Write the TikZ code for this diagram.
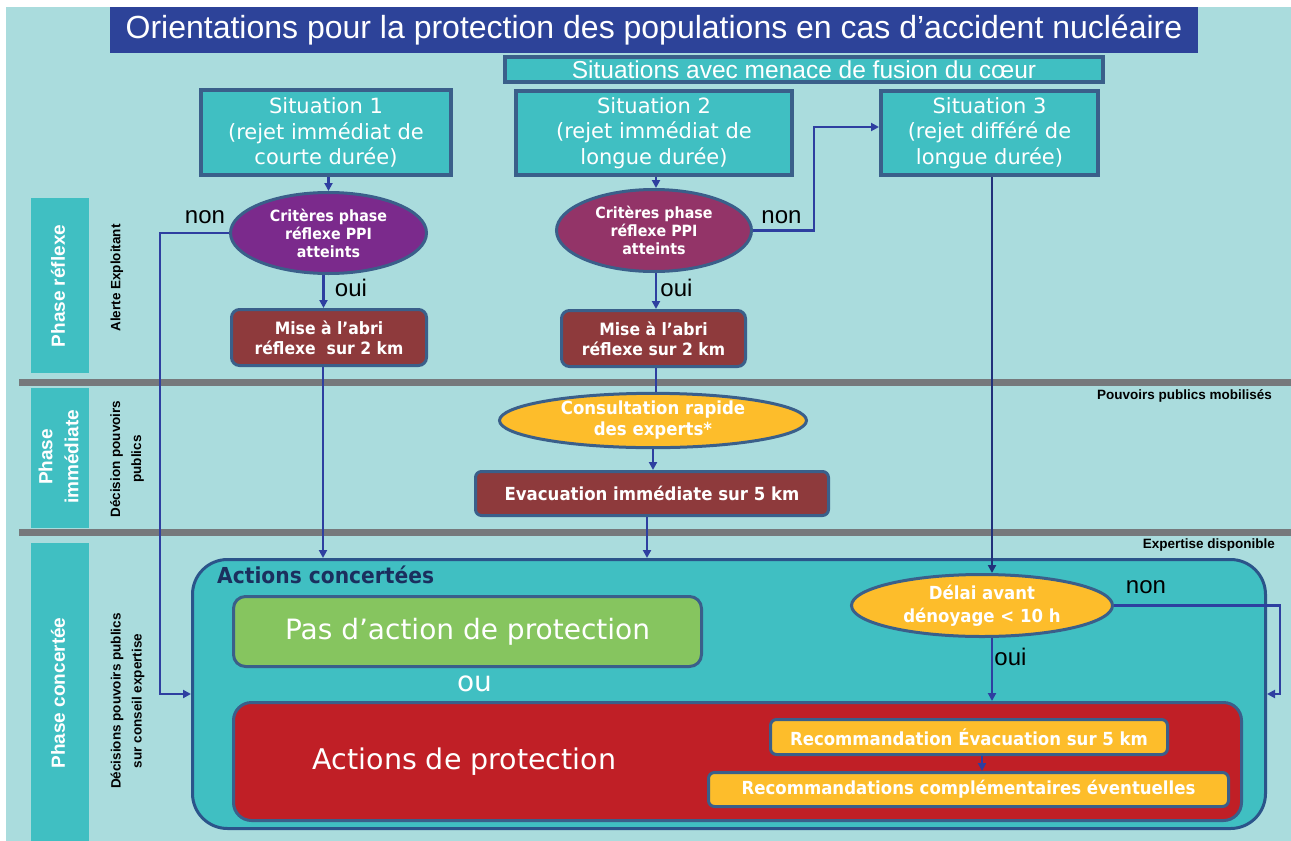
\documentclass[tikz,border=0pt]{standalone}
\usepackage{fontspec}
\setmainfont{Liberation Sans}
\newfontfamily\dvs{DejaVu Sans}
\newfontfamily\dvc{DejaVu Sans}[FakeStretch=0.92]
\usetikzlibrary{shapes.geometric,arrows.meta}
\definecolor{cbg}{HTML}{AADCDD}
\definecolor{cttl}{HTML}{2D4399}
\definecolor{cteal}{HTML}{40BFC2}
\definecolor{cslate}{HTML}{3A5F8A}
\definecolor{cborder}{HTML}{2B548A}
\definecolor{carr}{HTML}{2E3FA0}
\definecolor{carrdk}{HTML}{22307A}
\definecolor{cpurp}{HTML}{7B2A8C}
\definecolor{cmag}{HTML}{933468}
\definecolor{cdred}{HTML}{8E3A3C}
\definecolor{cyel}{HTML}{FDBD2B}
\definecolor{cgrn}{HTML}{86C55F}
\definecolor{crd}{HTML}{C01F26}
\definecolor{cgry}{HTML}{76797C}
\definecolor{cnavy}{HTML}{1B2F5E}
\tikzset{
  sitbox/.style={draw=cslate, line width=4pt, fill=cteal, text=white, align=center, inner sep=0pt,
    font={\dvs\fontsize{21}{25.5}\selectfont}},
  ellnode/.style={ellipse, draw=cslate, line width=3pt, inner sep=0pt, text=white, align=center},
  smallbold/.style={font={\dvc\bfseries\fontsize{15.5}{18}\selectfont}},
  midbold/.style={font={\dvc\bfseries\fontsize{18}{22}\selectfont}},
  dredbox/.style={draw=cslate, line width=3pt, fill=cdred, rounded corners=8pt, text=white, align=center, inner sep=0pt},
  yelbox/.style={draw=cslate, line width=3pt, fill=cyel, rounded corners=6pt, text=white, align=center, inner sep=0pt, midbold},
  arrowline/.style={draw=carr, line width=2.5pt, -{Triangle[length=8pt,width=8pt]}},
  plainline/.style={draw=carr, line width=2.5pt},
  lbl/.style={font={\fontsize{24}{28}\selectfont}, text=black, inner sep=0pt},
  phasebox/.style={fill=cteal, draw=none, inner sep=0pt, minimum width=58pt},
  phasetxt/.style={rotate=90, text=white, align=center, inner sep=0pt, font={\bfseries\fontsize{19}{26}\selectfont}},
  sublbl/.style={rotate=90, text=black, align=center, inner sep=0pt, font={\bfseries\fontsize{13.5}{21}\selectfont}},
  seprule/.style={draw=cgry, line width=7pt},
}
\begin{document}
\begin{tikzpicture}[x=1pt,y=-1pt]
\useasboundingbox (0,0) rectangle (1291,841);
\fill[white] (0,0) rectangle (1291,841);
\fill[cbg] (6,7) rectangle (1291,841);

% separators
\coordinate (sepAl) at (19,382.5);
\coordinate (sepAr) at (1291,382.5);
\coordinate (sepBl) at (19,532.5);
\coordinate (sepBr) at (1291,532.5);
\draw[seprule] (sepAl) -- (sepAr);
\draw[seprule] (sepBl) -- (sepBr);

% title
\node[fill=cttl, text=white, minimum width=1088pt, minimum height=46pt, inner sep=0pt,
  font={\fontsize{32}{36}\selectfont}] (title) at (654,30)
  {Orientations pour la protection des populations en cas d’accident nucléaire};

\node[draw=cslate, line width=4pt, fill=cteal, text=white, minimum width=598pt, minimum height=25pt, inner sep=0pt,
  font={\fontsize{24.5}{26}\selectfont}] (menace) at (804,69.5)
  {Situations avec menace de fusion du cœur};

% situations
\node[sitbox, minimum width=250pt, minimum height=85pt] (sit1) at (326,132.5)
  {Situation 1\\(rejet immédiat de\\courte durée)};
\node[sitbox, minimum width=276pt, minimum height=84pt] (sit2) at (654,133)
  {Situation 2\\(rejet immédiat de\\longue durée)};
\node[sitbox, minimum width=217pt, minimum height=84pt] (sit3) at (989.5,133)
  {Situation 3\\(rejet différé de\\longue durée)};

% phase labels
\node[phasebox, minimum height=175pt] (pr) at (60,285.5) {};
\node[phasetxt] (prt) at (58,286) {Phase réflexe};
\node[phasebox, minimum height=140pt] (pi) at (60,458) {};
\node[phasetxt] (pit) at (58.5,457) {Phase\\immédiate};
\node[phasebox, minimum height=298pt] (pc) at (60,692) {};
\node[phasetxt] (pct) at (58,693) {Phase concertée};

\node[sublbl] (sl1) at (117,278) {Alerte Exploitant};
\node[sublbl] (sl2) at (127,459) {Décision pouvoirs\\publics};
\node[sublbl] (sl3) at (127.5,701) {Décisions pouvoirs publics\\sur conseil expertise};

\node[anchor=east, inner sep=0pt, font={\bfseries\fontsize{13.5}{16}\selectfont}] (ppm) at (1272,396) {Pouvoirs publics mobilisés};
\node[anchor=east, inner sep=0pt, font={\bfseries\fontsize{13.5}{16}\selectfont}] (expd) at (1275,545) {Expertise disponible};

% ellipses
\node[ellnode, fill=cpurp, minimum width=196pt, minimum height=81pt, smallbold] (e1) at (328.5,233)
  {Critères phase\\réflexe PPI\\atteints};
\node[ellnode, fill=cmag, minimum width=195pt, minimum height=82pt, smallbold] (e2) at (654,230.5)
  {Critères phase\\réflexe PPI\\atteints};

% mise a l'abri
\node[dredbox, minimum width=195pt, minimum height=56pt, font={\dvc\bfseries\fontsize{17}{20}\selectfont}] (mise1) at (329,337.5)
  {Mise à l’abri\\réflexe\ \ sur 2 km};
\node[dredbox, minimum width=184pt, minimum height=56pt, font={\dvc\bfseries\fontsize{17}{20}\selectfont}] (mise2) at (653.5,338.5)
  {Mise à l’abri\\réflexe sur 2 km};

\node[ellnode, fill=cyel, minimum width=307pt, minimum height=52pt, font={\dvc\bfseries\fontsize{18}{21}\selectfont}] (consult) at (653,420.5)
  {Consultation rapide\\des experts*};
\node[dredbox, rounded corners=6pt, minimum width=353pt, minimum height=44pt, midbold] (evac) at (652,493.5)
  {Evacuation immédiate sur 5 km};

% concerted actions
\node[draw=cborder, line width=3pt, fill=cteal, rounded corners=35pt, minimum width=1073pt, minimum height=269pt, inner sep=0pt] (act) at (729,694) {};
\node[anchor=west, inner sep=0pt, text=cnavy, font={\dvc\bfseries\fontsize{22}{24}\selectfont}] (actlbl) at (217,575) {Actions concertées};
\node[draw=cslate, line width=3pt, fill=cgrn, rounded corners=12pt, minimum width=468pt, minimum height=70pt, inner sep=0pt,
  text=white, font={\dvs\fontsize{28}{32}\selectfont}] (pas) at (467.5,631.5) {Pas d’action de protection};
\node[inner sep=0pt, text=white, font={\dvs\fontsize{28}{32}\selectfont}] (ou) at (474.5,684) {ou};
\node[draw=cslate, line width=3pt, fill=crd, rounded corners=18pt, minimum width=1008pt, minimum height=118pt, inner sep=0pt] (red) at (737.5,761.5) {};
\node[inner sep=0pt, text=white, font={\dvs\fontsize{28.5}{32}\selectfont}] (actprot) at (464.5,762) {Actions de protection};

\node[ellnode, fill=cyel, minimum width=261pt, minimum height=62pt, font={\dvc\bfseries\fontsize{18}{22.5}\selectfont}] (delai) at (982,605.5)
  {Délai avant\\dénoyage < 10 h};
\node[yelbox, minimum width=397pt, minimum height=35pt] (reco1) at (969,737) {Recommandation Évacuation sur 5 km};
\node[yelbox, minimum width=520pt, minimum height=34pt] (reco2) at (968.5,789.5) {Recommandations complémentaires éventuelles};

% connectors
\draw[arrowline] (e1.north |- sit1.south) -- (e1.north);
\coordinate (n1a) at (160,233);
\coordinate (n1b) at (160,694);
\draw[arrowline] (e1.west) -- (n1a) -- (n1b) -- (n1b -| act.west);
\draw[arrowline] ([xshift=-5pt]e1.south) -- ([xshift=-5pt]e1.south |- mise1.north);
\draw[arrowline] ([xshift=-6pt]mise1.south) -- ([xshift=-6pt]mise1.south |- act.north);

\draw[arrowline] ([xshift=2pt]e2.north |- sit2.south) -- ([xshift=2pt]e2.north);
\coordinate (n2b) at (814,127);
\draw[arrowline] (e2.east) -| (n2b) -- (n2b -| sit3.west);
\draw[arrowline] ([xshift=2pt]e2.south) -- ([xshift=2pt]e2.south |- mise2.north);
\draw[plainline] ([xshift=2pt]e2.south |- mise2.south) -- ([xshift=2pt]e2.south |- consult.north);
\draw[arrowline] (consult.south) -- (consult.south |- evac.north);
\draw[arrowline] ([xshift=-5pt]evac.south) -- ([xshift=-5pt]evac.south |- act.north);

\draw[arrowline, draw=carrdk] ([xshift=2.5pt]sit3.south) -- ([xshift=2.5pt]sit3.south |- delai.north);
\coordinate (n3b) at (1280,694);
\draw[arrowline] (delai.east) -| (n3b) -- (n3b -| act.east);
\draw[arrowline] ([xshift=10pt]delai.south) -- ([xshift=10pt]delai.south |- red.north);
\draw[arrowline] ([xshift=13pt]reco1.south) -- ([xshift=13pt]reco1.south |- reco2.north);

% yes/no labels
\node[lbl] (non1) at (205,217) {non};
\node[lbl] (oui1) at (351,288) {oui};
\node[lbl] (non2) at (781.5,217) {non};
\node[lbl] (oui2) at (676.5,288) {oui};
\node[lbl] (non3) at (1146,587) {non};
\node[lbl] (oui3) at (1010.5,657) {oui};
\end{tikzpicture}
\end{document}
